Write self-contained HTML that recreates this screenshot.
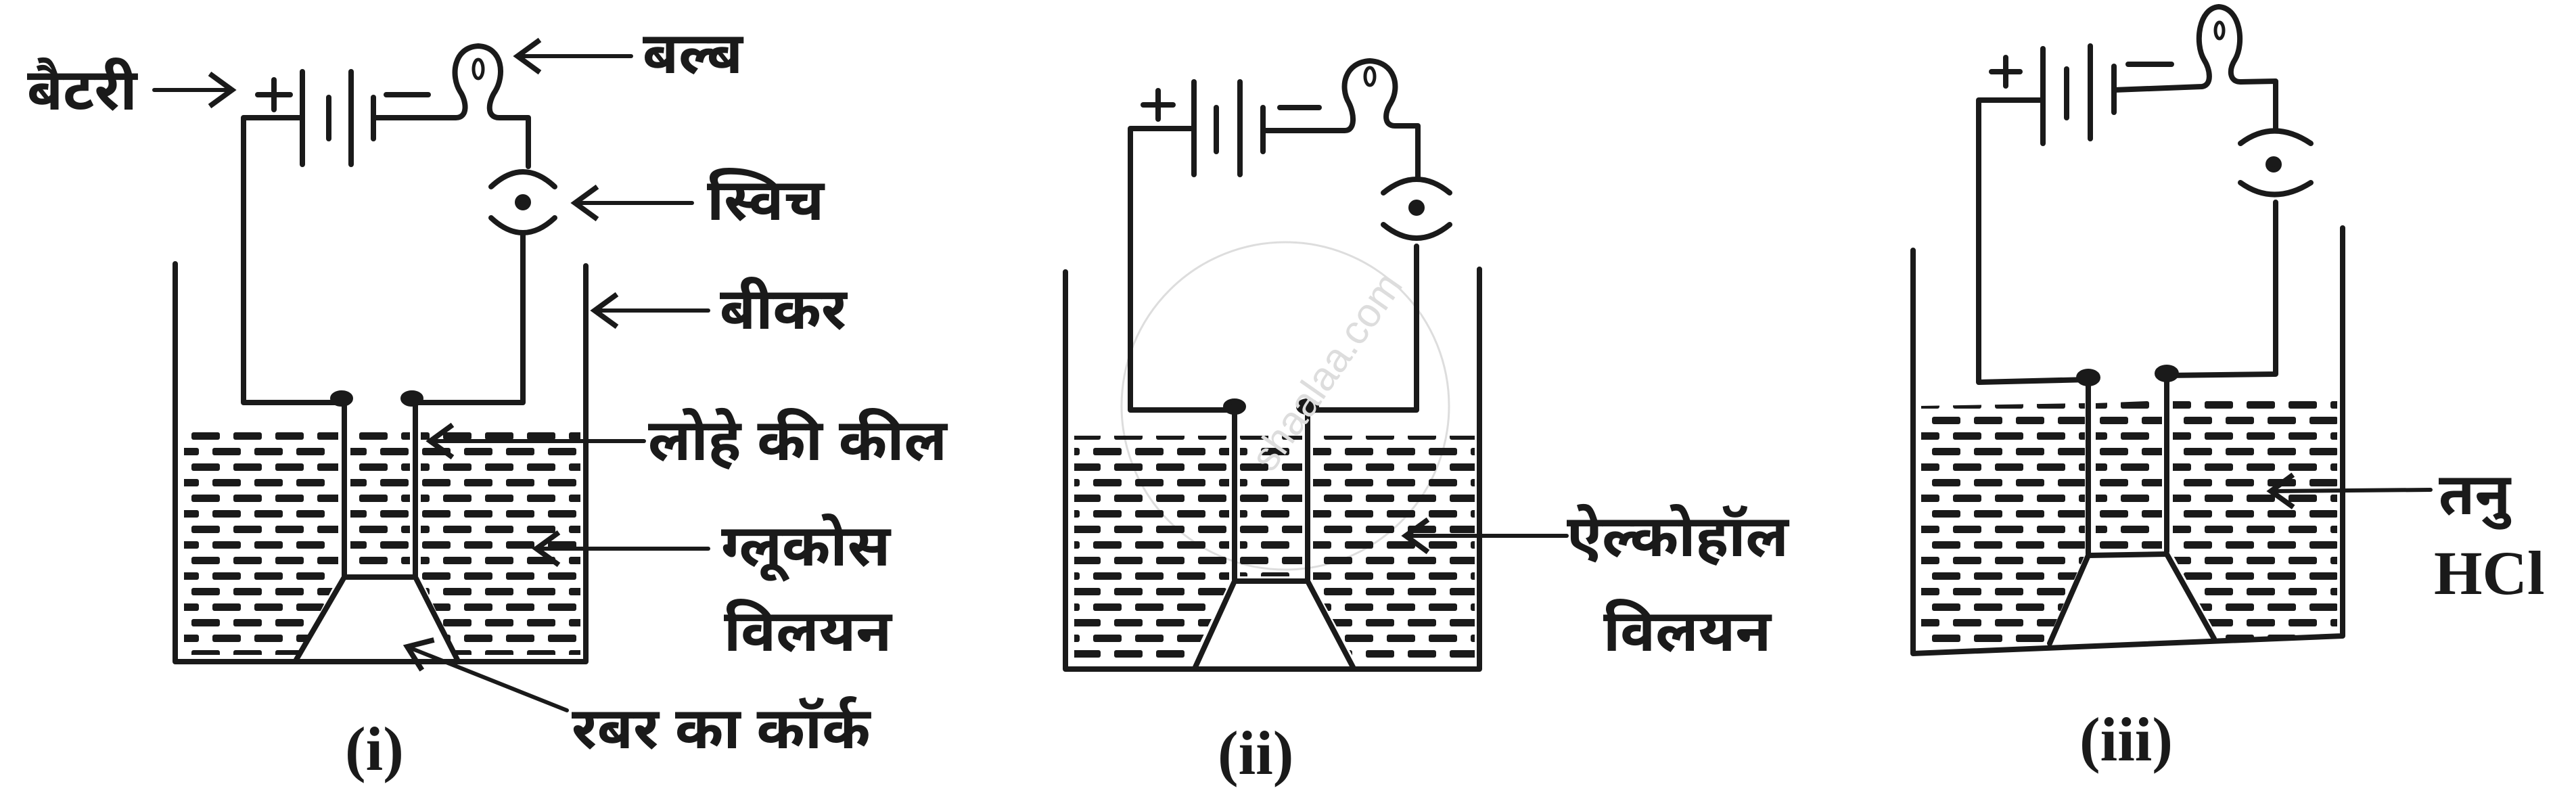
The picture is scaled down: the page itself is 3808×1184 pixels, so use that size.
<!DOCTYPE html>
<html><head><meta charset="utf-8"><style>
html,body{margin:0;padding:0;background:#fff}
svg{display:block}
.t{font-family:"Liberation Sans","Noto Sans Devanagari","Lohit Devanagari",sans-serif;font-size:86px;font-weight:bold;fill:#1a1a1a}
.s{font-family:"Liberation Serif",serif;font-size:92px;font-weight:bold;fill:#1a1a1a}
</style></head><body>
<svg width="3808" height="1184" viewBox="0 0 3808 1184" xmlns="http://www.w3.org/2000/svg">
<defs>
<pattern id="liq" width="124" height="46" patternUnits="userSpaceOnUse" y="10">
<rect x="4" y="8" width="42" height="11" rx="3" fill="#1a1a1a"/>
<rect x="66" y="8" width="42" height="11" rx="3" fill="#1a1a1a"/>
<rect x="35" y="31" width="42" height="11" rx="3" fill="#1a1a1a"/>
<rect x="97" y="31" width="42" height="11" rx="3" fill="#1a1a1a"/>
<rect x="-27" y="31" width="42" height="11" rx="3" fill="#1a1a1a"/>
</pattern>
<marker id="ah" markerWidth="10" markerHeight="10" refX="6.5" refY="5" orient="auto" markerUnits="strokeWidth">
<path d="M1,1 L6.5,5 L1,9" fill="none" stroke="#1a1a1a" stroke-width="1.3"/>
</marker>
</defs>
<g fill="none" stroke="#1a1a1a" stroke-width="8" stroke-linejoin="round" stroke-linecap="round">

<!-- ===== (i) ===== -->
<polygon points="272,637 500,637 500,853 440,968 272,968" fill="url(#liq)" stroke="none"/>
<polygon points="518,637 606,637 606,845 518,845" fill="url(#liq)" stroke="none"/>
<polygon points="622,637 858,637 858,968 674,968 622,853" fill="url(#liq)" stroke="none"/>
<polyline points="259,390 259,978 866,978 866,393"/>
<polyline points="447,174 360,174 360,595 505,595"/>
<line x1="447" y1="106" x2="447" y2="243"/><line x1="486" y1="144" x2="486" y2="205"/>
<line x1="519" y1="106" x2="519" y2="243"/><line x1="552" y1="144" x2="552" y2="205"/>
<line x1="381" y1="140" x2="429" y2="140"/><line x1="405" y1="118" x2="405" y2="162"/>
<line x1="571" y1="140" x2="633" y2="140"/>
<path d="M552,174 L674,174 C692,174 690,150 680,135 C666,112 670,70 707,68 C744,70 746,112 732,135 C722,150 718,174 738,174 L781,174 L781,246"/>
<ellipse cx="707" cy="102" rx="7" ry="14" stroke-width="5"/>
<path d="M726,276 Q773,232 820,276"/><path d="M726,322 Q773,366 820,322"/>
<circle cx="773" cy="299" r="8" fill="#1a1a1a"/>
<polyline points="773,345 773,595 609,595"/>
<line x1="509" y1="595" x2="509" y2="851"/><line x1="614" y1="595" x2="614" y2="851"/>
<ellipse cx="505" cy="589" rx="13" ry="8" fill="#1a1a1a"/><ellipse cx="609" cy="589" rx="13" ry="8" fill="#1a1a1a"/>
<path d="M438,975 L509,853 L614,853 L676,975"/>
<line x1="228" y1="133" x2="343" y2="133" stroke-width="6" marker-end="url(#ah)"/>
<line x1="933" y1="83" x2="765" y2="83" stroke-width="6" marker-end="url(#ah)"/>
<line x1="1023" y1="300" x2="850" y2="300" stroke-width="6" marker-end="url(#ah)"/>
<line x1="1047" y1="459" x2="879" y2="459" stroke-width="6" marker-end="url(#ah)"/>
<line x1="952" y1="652" x2="636" y2="652" stroke-width="6" marker-end="url(#ah)"/>
<line x1="1047" y1="811" x2="793" y2="811" stroke-width="6" marker-end="url(#ah)"/>
<line x1="838" y1="1050" x2="602" y2="956" stroke-width="6" marker-end="url(#ah)"/>

<!-- ===== (ii) ===== -->
<circle cx="1900" cy="600" r="242" stroke="#ddd" stroke-width="3"/>
<polygon points="1588,644 1817,644 1817,862 1760,978 1588,978" fill="url(#liq)" stroke="none"/>
<polygon points="1833,644 1925,644 1925,852 1833,852" fill="url(#liq)" stroke="none"/>
<polygon points="1941,644 2180,644 2180,978 2004,978 1941,862" fill="url(#liq)" stroke="none"/>
<polyline points="1575,402 1575,989 2187,989 2187,398"/>
<polyline points="1765,190 1671,190 1671,606 1825,606"/>
<line x1="1765" y1="121" x2="1765" y2="258"/><line x1="1798" y1="159" x2="1798" y2="224"/>
<line x1="1833" y1="121" x2="1833" y2="258"/><line x1="1867" y1="159" x2="1867" y2="224"/>
<line x1="1690" y1="155" x2="1734" y2="155"/><line x1="1712" y1="134" x2="1712" y2="176"/>
<line x1="1892" y1="159" x2="1950" y2="159"/>
<path d="M1867,193 L1988,193 C2004,193 2002,168 1994,152 C1980,128 1988,92 2025,90 C2062,92 2070,128 2056,152 C2046,168 2046,186 2062,186 L2096,186 L2096,262"/>
<ellipse cx="2025" cy="113" rx="7" ry="13" stroke-width="5"/>
<path d="M2045,285 Q2094,245 2143,285"/><path d="M2045,332 Q2094,372 2143,332"/>
<circle cx="2094" cy="307" r="8" fill="#1a1a1a"/>
<polyline points="2094,364 2094,606 1933,606"/>
<line x1="1825" y1="606" x2="1825" y2="857"/><line x1="1933" y1="606" x2="1933" y2="857"/>
<ellipse cx="1825" cy="601" rx="13" ry="8" fill="#1a1a1a"/><ellipse cx="1933" cy="601" rx="13" ry="8" fill="#1a1a1a"/>
<path d="M1767,986 L1825,859 L1933,859 L2000,986"/>
<line x1="2316" y1="792" x2="2078" y2="792" stroke-width="6" marker-end="url(#ah)"/>

<!-- ===== (iii) ===== -->
<polygon points="2840,600 3082,596 3082,820 3025,952 2840,958" fill="url(#liq)" stroke="none"/>
<polygon points="3098,596 3196,592 3196,812 3098,814" fill="url(#liq)" stroke="none"/>
<polygon points="3212,588 3455,582 3455,940 3280,944 3212,820" fill="url(#liq)" stroke="none"/>
<polyline points="2828,370 2828,966 3463,940 3463,337"/>
<polyline points="3020,148 2925,148 2925,565 3087,561"/>
<line x1="3020" y1="72" x2="3020" y2="212"/><line x1="3055" y1="102" x2="3055" y2="174"/>
<line x1="3090" y1="68" x2="3090" y2="205"/><line x1="3125" y1="98" x2="3125" y2="166"/>
<line x1="2944" y1="106" x2="2986" y2="106"/><line x1="2965" y1="85" x2="2965" y2="127"/>
<line x1="3146" y1="95" x2="3210" y2="95"/>
<path d="M3125,133 L3255,128 C3270,126 3268,104 3258,88 C3244,64 3250,12 3280,10 C3312,12 3318,64 3304,88 C3294,104 3296,121 3312,121 L3364,120 L3364,190"/>
<ellipse cx="3281" cy="45" rx="6" ry="12" stroke-width="5"/>
<path d="M3312,212 Q3361,175 3416,212"/><path d="M3312,270 Q3361,305 3416,270"/>
<circle cx="3361" cy="243" r="8" fill="#1a1a1a"/>
<polyline points="3364,299 3364,553 3203,555"/>
<line x1="3087" y1="561" x2="3087" y2="819"/><line x1="3203" y1="555" x2="3203" y2="815"/>
<ellipse cx="3087" cy="558" rx="14" ry="9" fill="#1a1a1a"/><ellipse cx="3203" cy="552" rx="14" ry="9" fill="#1a1a1a"/>
<path d="M3030,951 L3087,821 L3203,819 L3273,944"/>
<line x1="3593" y1="724" x2="3357" y2="726" stroke-width="6" marker-end="url(#ah)"/>
</g>

<text class="t" x="40" y="162">बैटरी</text>
<text class="t" x="950" y="108">बल्ब</text>
<text class="t" x="1045" y="325">स्विच</text>
<text class="t" x="1064" y="486">बीकर</text>
<text class="t" x="958" y="680">लोहे की कील</text>
<text class="t" x="1066" y="836">ग्लूकोस</text>
<text class="t" x="1070" y="962">विलयन</text>
<text class="t" x="845" y="1106">रबर का कॉर्क</text>
<text class="s" x="510" y="1138">(i)</text>

<text class="t" x="2316" y="822">ऐल्कोहॉल</text>
<text class="t" x="2370" y="962">विलयन</text>
<text class="s" x="1800" y="1144">(ii)</text>
<text x="1880" y="700" transform="rotate(-55 1880 700)" font-family="Liberation Sans,sans-serif" font-size="60" fill="#ddd">shaalaa.com</text>

<text class="t" x="3605" y="760">तनु</text>
<text class="s" x="3598" y="878">HCl</text>
<text class="s" x="3074" y="1124">(iii)</text>
</svg>
</body></html>
